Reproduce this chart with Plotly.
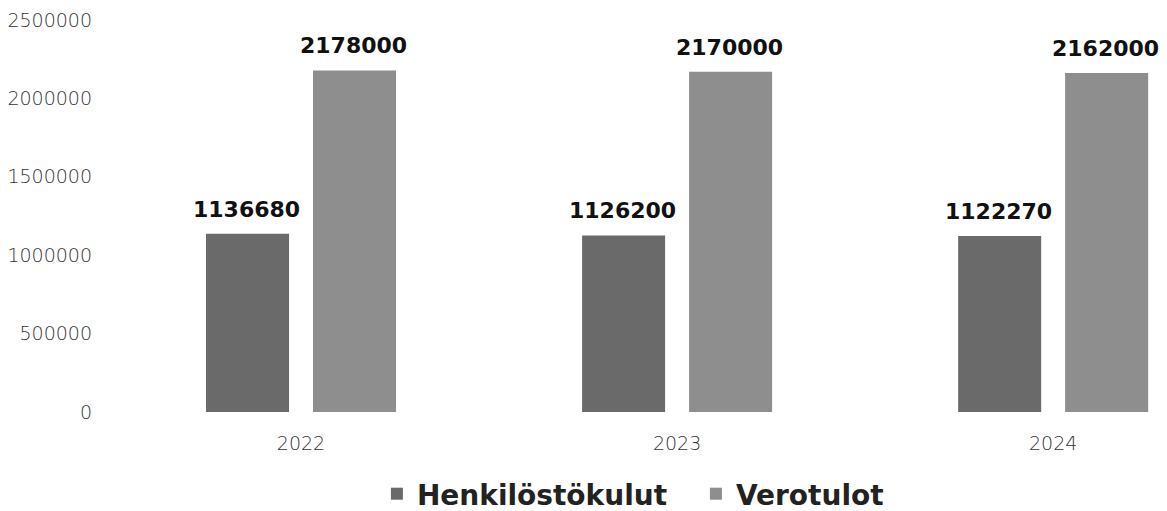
import plotly.graph_objects as go

years = ["2022", "2023", "2024"]
henkilosto = [1136680, 1126200, 1122270]
verotulot = [2178000, 2170000, 2162000]
series_names = ["Henkilöstökulut", "Verotulot"]
y_ticks = [0, 500000, 1000000, 1500000, 2000000, 2500000]

colors = ["#6a6a6a", "#8e8e8e"]

fig = go.Figure()
for name, vals, col in zip(series_names, [henkilosto, verotulot], colors):
    fig.add_trace(go.Bar(x=years, y=vals, name=name, marker=dict(color=col, line=dict(width=0))))

annotations = []
slot_px = 53.5
for vals, sh in zip([henkilosto, verotulot], [-slot_px, slot_px]):
    for i, v in enumerate(vals):
        annotations.append(dict(x=i, y=v, xref="x", yref="y", text=f"<b>{v}</b>",
                                showarrow=False, xshift=sh - 1, yshift=10, yanchor="bottom",
                                font=dict(family="DejaVu Sans", size=22, color="#111")))

fig.update_layout(
    width=1167, height=511,
    margin=dict(l=105, r=0, t=12, b=106),
    paper_bgcolor="white", plot_bgcolor="white",
    barmode="group", bargap=0.431, bargroupgap=0.224,
    annotations=annotations,
    showlegend=True,
    legend=dict(orientation="h", x=0.2485, xanchor="left", y=-0.209, yanchor="middle",
                font=dict(family="DejaVu Sans", size=28, color="#222", weight="bold"),
                entrywidth=274, entrywidthmode="pixels", traceorder="normal"),
    xaxis=dict(type="category", range=[-0.5, 2.324], showgrid=False, showline=False, zeroline=False,
               tickfont=dict(family="DejaVu Sans", size=19, color="#333", weight=200), ticklabelstandoff=18),
    yaxis=dict(range=[0, 2500000], tickvals=y_ticks, ticktext=[str(t) for t in y_ticks],
               showgrid=False, showline=False, zeroline=False,
               tickfont=dict(family="DejaVu Sans", size=19, color="#333", weight=200), ticklabelstandoff=20),
)

fig.write_html("out.html")
